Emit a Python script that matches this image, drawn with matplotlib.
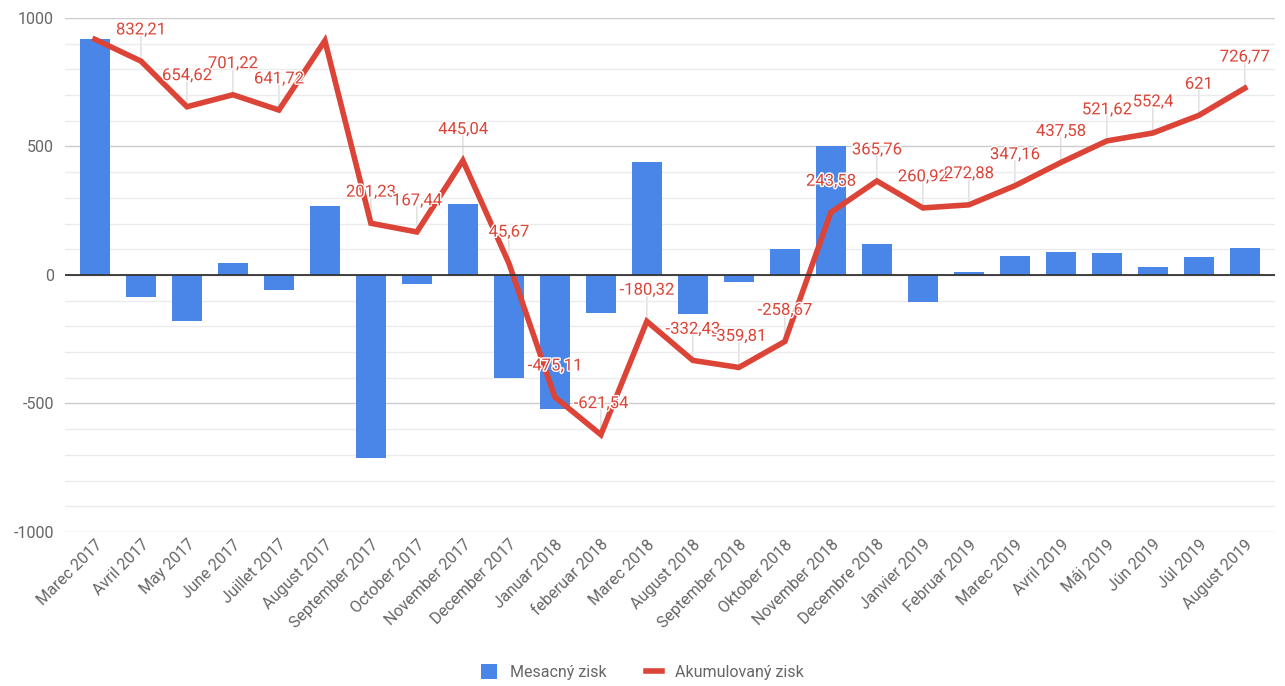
import numpy as np
import matplotlib.pyplot as plt
from matplotlib.lines import Line2D
from matplotlib.patches import Patch
import matplotlib.patheffects as pe

plt.rcParams['font.family'] = ['Roboto', 'DejaVu Sans']
plt.rcParams['axes.unicode_minus'] = False

# Data
months = ["Marec 2017", "Avril 2017", "May 2017", "June 2017", "Juillet 2017",
          "August 2017", "September 2017", "October 2017", "November 2017",
          "December 2017", "Januar 2018", "feberuar 2018", "Marec 2018",
          "August 2018", "September 2018", "Oktober 2018", "November 2018",
          "Decembre 2018", "Janvier 2019", "Februar 2019", "Marec 2019",
          "Avril 2019", "Máj 2019", "Jún 2019", "Júl 2019", "August 2019"]
mesacny = [917, -84.79, -177.59, 46.6, -59.5, 270, -710.49, -33.79, 277.6,
           -399.37, -520.78, -146.43, 441.22, -152.11, -27.38, 101.14, 502.25,
           122.18, -104.84, 11.96, 74.28, 90.42, 84.04, 30.78, 68.6, 105.77]
akumulovany = [917, 832.21, 654.62, 701.22, 641.72, 911.72, 201.23, 167.44,
               445.04, 45.67, -475.11, -621.54, -180.32, -332.43, -359.81,
               -258.67, 243.58, 365.76, 260.92, 272.88, 347.16, 437.58,
               521.62, 552.4, 621, 726.77]
skip_labels = [0, 5]  # labels hidden in the original chart

blue = "#4a86e8"
red = "#db4437"
grey = "#666666"

fig = plt.figure(figsize=(12.85, 6.86), dpi=100)
ax = fig.add_axes([0.0506, 0.2245, 0.9414, 0.7493])

x = np.arange(len(months))
ax.bar(x, mesacny, width=0.65, color=blue, zorder=2)
ax.plot(x, akumulovany, color=red, lw=4, zorder=3, solid_joinstyle='miter')

for i, v in enumerate(akumulovany):
    if i in skip_labels:
        continue
    txt = f"{v:g}".replace('.', ',')
    ax.annotate(txt, (x[i], v), xytext=(0, 17), textcoords='offset points',
                ha='center', va='bottom', color=red, fontsize=12, zorder=5,
                path_effects=[pe.withStroke(linewidth=2, foreground='white')])
    ax.annotate('', (x[i], v), xytext=(0, 18), textcoords='offset points',
                arrowprops=dict(arrowstyle='-', color='#dddddd', lw=1,
                                shrinkA=0, shrinkB=0), zorder=1)

ax.set_xlim(-0.65, len(months) - 0.35)
ax.set_ylim(-1000, 1000)
ax.set_yticks([-1000, -500, 0, 500, 1000])
ax.set_yticks(np.arange(-900, 1000, 100), minor=True)
ax.grid(axis='y', which='major', color='#cccccc', lw=1, zorder=0)
ax.grid(axis='y', which='minor', color='#ebebeb', lw=1, zorder=0)
ax.axhline(0, color='#333333', lw=1.3, zorder=4)
for s in ax.spines.values():
    s.set_visible(False)
ax.tick_params(axis='both', which='both', length=0, colors=grey, labelsize=11.5)
ax.tick_params(axis='y', pad=8)
ax.set_xticks(x)
ax.set_xticklabels(months, rotation=45, ha='right', rotation_mode='anchor')

handles = [Patch(facecolor=blue, edgecolor='none'),
           Line2D([0], [0], color=red, lw=4)]
fig.legend(handles, ["Mesacný zisk", "Akumulovaný zisk"], loc='center',
           bbox_to_anchor=(0.5, 0.02), ncol=2, frameon=False, fontsize=11.5,
           labelcolor=grey, handlelength=1.0, handleheight=1.0, columnspacing=2.5)

fig.savefig("out.png", dpi=100)
